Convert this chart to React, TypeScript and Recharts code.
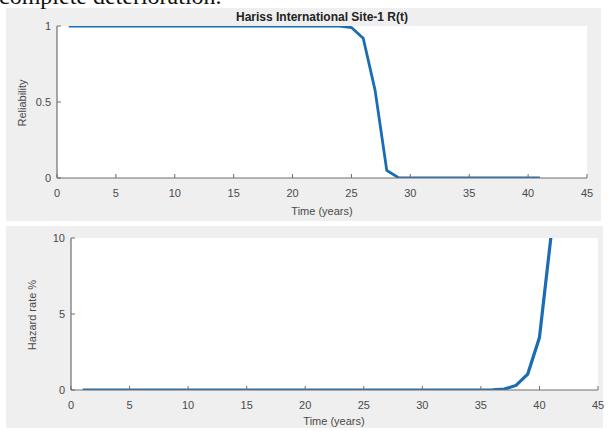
import React from "react";
import { LineChart, Line, XAxis, YAxis } from "recharts";

const years = [1, 2, 3, 4, 5, 6, 7, 8, 9, 10, 11, 12, 13, 14, 15, 16, 17, 18, 19, 20, 21, 22, 23, 24, 25, 26, 27, 28, 29, 30, 31, 32, 33, 34, 35, 36, 37, 38, 39, 40, 41];
const reliability = [1, 1, 1, 1, 1, 1, 1, 1, 1, 1, 1, 1, 1, 1, 1, 1, 1, 1, 1, 1, 1, 1, 1, 1, 0.99, 0.92, 0.58, 0.05, 0.002, 0, 0, 0, 0, 0, 0, 0, 0, 0, 0, 0, 0];
const hazard = [0, 0, 0, 0, 0, 0, 0, 0, 0, 0, 0, 0, 0, 0, 0, 0, 0, 0, 0, 0, 0, 0, 0, 0, 0, 0, 0, 0, 0, 0, 0, 0, 0, 0, 0, 0.01, 0.06, 0.3, 1.05, 3.45, 10.2];
const xTicks = [0, 5, 10, 15, 20, 25, 30, 35, 40, 45];
const relTicks = [0, 0.5, 1];
const hazTicks = [0, 5, 10];

const relData = years.map((t, i) => ({ t, v: reliability[i] }));
const hazData = years.map((t, i) => ({ t, v: hazard[i] }));

const AX = "#6e6e6e";
const TXT = "#4a4a4a";
const LINE = "#1a6db3";
const FONT = "'Liberation Sans', Arial, sans-serif";
const tickStyle = { fill: TXT, fontSize: 11, fontFamily: FONT };

type PanelProps = {
  data: { t: number; v: number }[];
  yTicks: number[];
  yDomain: [number, number];
  top: number;
  height: number;
  left: number;
  right: number;
  plotTop: number;
  plotBottom: number;
  strokeW: number;
  fmt?: (v: number) => string;
};

function Panel(p: PanelProps) {
  const width = 608;
  const xAxisH = 30;
  return (
    <div style={{ position: "absolute", left: 0, top: p.top }}>
      <LineChart
        width={width}
        height={p.height}
        data={p.data}
        margin={{ top: p.plotTop, right: width - p.right, left: 0, bottom: p.height - p.plotBottom - xAxisH }}
      >
        <XAxis
          xAxisId="b"
          dataKey="t"
          type="number"
          domain={[0, 45]}
          ticks={xTicks}
          interval={0}
          height={xAxisH}
          stroke={AX}
          tickSize={-4}
          tickMargin={15}
          tick={tickStyle}
          axisLine={{ stroke: AX, strokeWidth: 1.2 }}
        />
        <XAxis
          xAxisId="t"
          dataKey="t"
          type="number"
          domain={[0, 45]}
          ticks={xTicks}
          interval={0}
          orientation="top"
          height={0}
          stroke={AX}
          tickSize={-4}
          tick={false}
          axisLine={{ stroke: AX, strokeWidth: 1.2 }}
        />
        <YAxis
          yAxisId="l"
          type="number"
          domain={p.yDomain}
          ticks={p.yTicks}
          interval={0}
          width={p.left}
          allowDataOverflow
          stroke={AX}
          tickSize={-4}
          tickMargin={10}
          tick={tickStyle}
          tickFormatter={p.fmt}
          axisLine={{ stroke: AX, strokeWidth: 1.2 }}
        />
        <YAxis
          yAxisId="r"
          type="number"
          orientation="right"
          domain={p.yDomain}
          ticks={p.yTicks}
          interval={0}
          width={0}
          allowDataOverflow
          stroke={AX}
          tickSize={-4}
          tick={false}
          axisLine={{ stroke: AX, strokeWidth: 1.2 }}
        />
        <Line
          xAxisId="b"
          yAxisId="l"
          dataKey="v"
          type="linear"
          stroke={LINE}
          strokeWidth={p.strokeW}
          dot={false}
          isAnimationActive={false}
        />
      </LineChart>
    </div>
  );
}

export default function App() {
  return (
    <div style={{ position: "absolute", left: 0, top: 0, width: 608, height: 431, background: "#ffffff", overflow: "hidden" }}>
      <div style={{ position: "absolute", left: 6, top: 8, width: 595, height: 213, background: "#efefef" }} />
      <div style={{ position: "absolute", left: 6, top: 226, width: 597, height: 202, background: "#efefef" }} />
      <div style={{ position: "absolute", left: 57, top: 26, width: 530, height: 152, background: "#ffffff" }} />
      <div style={{ position: "absolute", left: 71, top: 238, width: 527, height: 152, background: "#ffffff" }} />
      <Panel
        data={relData}
        yTicks={relTicks}
        yDomain={[0, 1]}
        top={0}
        height={226}
        left={57}
        right={587}
        plotTop={26}
        plotBottom={178}
        strokeW={2.8}
        fmt={(v) => String(v)}
      />
      <Panel
        data={hazData}
        yTicks={hazTicks}
        yDomain={[0, 10]}
        top={0}
        height={431}
        left={71}
        right={598}
        plotTop={238}
        plotBottom={390}
        strokeW={3.2}
      />
      <svg width={608} height={431} style={{ position: "absolute", left: 0, top: 0, pointerEvents: "none" }}>
        <text x={-1} y={4} fontFamily="'Liberation Serif', 'Times New Roman', serif" fontSize={24} fill="#111">
          complete deterioration.
        </text>
        <text x={322} y={21} textAnchor="middle" fontFamily={FONT} fontSize={12} fontWeight="bold" fill="#222">
          Hariss International Site-1 R(t)
        </text>
        <text x={322} y={215} textAnchor="middle" fontFamily={FONT} fontSize={11} fill={TXT}>
          Time (years)
        </text>
        <text x={334} y={425} textAnchor="middle" fontFamily={FONT} fontSize={11} fill={TXT}>
          Time (years)
        </text>
        <text
          x={0}
          y={0}
          transform="translate(26,103) rotate(-90)"
          textAnchor="middle"
          fontFamily={FONT}
          fontSize={11}
          fill={TXT}
        >
          Reliability
        </text>
        <text
          x={0}
          y={0}
          transform="translate(36,315) rotate(-90)"
          textAnchor="middle"
          fontFamily={FONT}
          fontSize={11}
          fill={TXT}
        >
          Hazard rate %
        </text>
      </svg>
    </div>
  );
}
